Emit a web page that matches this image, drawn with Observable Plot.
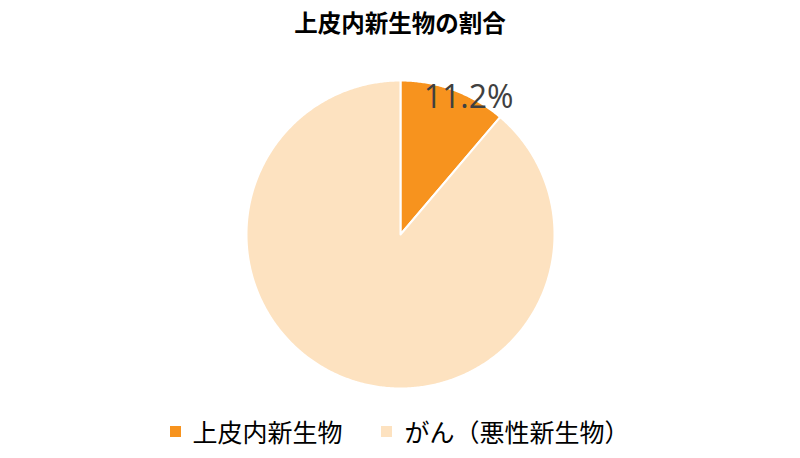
<!DOCTYPE html>
<html>
<head>
<meta charset="utf-8">
<script src="https://cdn.jsdelivr.net/npm/d3@7"></script>
<script src="https://cdn.jsdelivr.net/npm/@observablehq/plot@0.6"></script>
<style>
  html, body { margin: 0; padding: 0; background: #fff; }
  body { width: 800px; height: 458px; overflow: hidden; font-family: "Noto Sans CJK JP", "Noto Sans", sans-serif; }
  #title { height: 44px; line-height: 44px; text-align: center; font-size: 23.5px; font-weight: bold; color: #000; }
  #legend { height: 54px; display: flex; justify-content: center; align-items: center; gap: 38px; font-size: 25px; color: #000; }
  .item { display: flex; align-items: center; }
  .sw { width: 11px; height: 11px; margin-right: 11px; }
  .item + .item .sw { margin-right: 13px; }
  svg { display: block; }
</style>
</head>
<body>
<div id="title">上皮内新生物の割合</div>
<div id="chart"></div>
<div id="legend"></div>
<script>
const categories = ["上皮内新生物", "がん（悪性新生物）"];
const values = [11.2, 88.8];
const colors = ["#F7931E", "#FDE2C0"];
const labels = ["11.2%"];

const arcs = d3.pie().sort(null).value(d => d)(values);
const pts = [];
arcs.forEach((a, i) => {
  pts.push({name: categories[i], x: 0, y: 0});
  const n = Math.max(2, Math.ceil((a.endAngle - a.startAngle) / (Math.PI / 360)));
  for (let k = 0; k <= n; k++) {
    const t = a.startAngle + (a.endAngle - a.startAngle) * k / n;
    pts.push({name: categories[i], x: Math.sin(t), y: Math.cos(t)});
  }
});
const mid = (arcs[0].startAngle + arcs[0].endAngle) / 2;
const labelData = [{x: Math.sin(mid), y: Math.cos(mid), text: labels[0]}];

const chart = Plot.plot({
  width: 800,
  height: 360,
  marginLeft: 246,
  marginRight: 246,
  marginTop: 36,
  marginBottom: 16,
  x: {domain: [-1, 1], axis: null},
  y: {domain: [-1, 1], axis: null},
  color: {domain: categories, range: colors},
  marks: [
    Plot.line(pts, {x: "x", y: "y", z: "name", fill: "name", stroke: "white", strokeWidth: 2, curve: "linear-closed", strokeLinejoin: "round"}),
    Plot.text(labelData, {x: "x", y: "y", text: "text", dx: 15, dy: 8, fontSize: 32, fill: "#404040", fontFamily: "Open Sans, Noto Sans, sans-serif"})
  ]
});
document.getElementById("chart").appendChild(chart);

const legend = document.getElementById("legend");
categories.forEach((c, i) => {
  const it = document.createElement("div");
  it.className = "item";
  const sw = document.createElement("span");
  sw.className = "sw";
  sw.style.background = colors[i];
  const tx = document.createElement("span");
  tx.textContent = c;
  it.appendChild(sw);
  it.appendChild(tx);
  legend.appendChild(it);
});
</script>
</body>
</html>
